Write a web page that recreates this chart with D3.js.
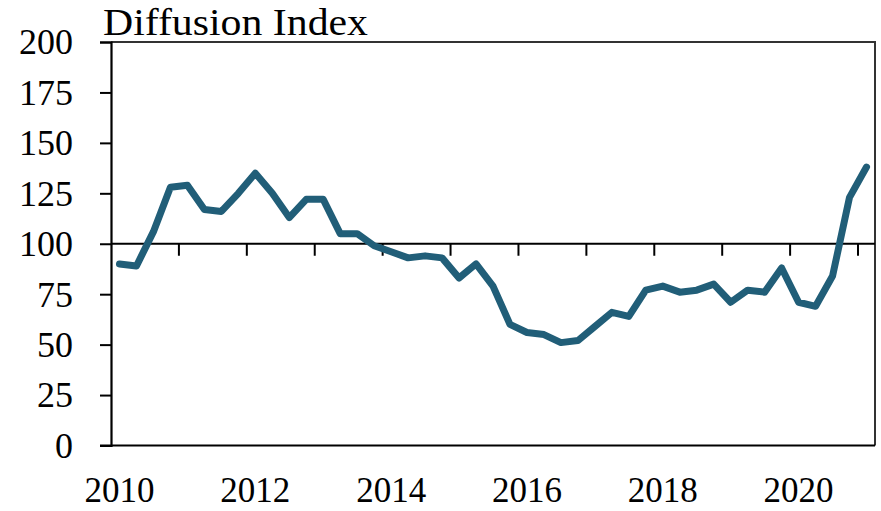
<!DOCTYPE html>
<html>
<head>
<meta charset="utf-8">
<script src="https://cdn.jsdelivr.net/npm/d3@7"></script>
<style>
  html, body { margin: 0; padding: 0; background: #fff; }
  svg { display: block; }
  text { font-family: "Liberation Serif", "DejaVu Serif", serif; fill: #000; }
</style>
</head>
<body>
<svg id="chart" width="881" height="511"></svg>
<script>
// ---- data ----
const years = [2010, 2011, 2012, 2013, 2014, 2015, 2016, 2017, 2018, 2019, 2020, 2021];
const quarters = ["Q1", "Q2", "Q3", "Q4"];
const categories = [];
years.forEach(yr => quarters.forEach(q => { if (!(yr === 2021 && q !== "Q1")) categories.push(yr + q); }));
const values = [
  90, 89, 106, 128,
  129, 117, 116, 125,
  135, 125, 113, 122,
  122, 105, 105, 99,
  96, 93, 94, 93,
  83, 90, 79, 60,
  56, 55, 51, 52,
  59, 66, 64, 77,
  79, 76, 77, 80,
  71, 77, 76, 88,
  71, 69, 84, 123,
  138
];
const yTicks = [0, 25, 50, 75, 100, 125, 150, 175, 200];
const xLabelYears = ["2010", "2012", "2014", "2016", "2018", "2020"];
const yTitle = "Diffusion Index";
const refLine = 100;

// ---- layout ----
const svg = d3.select("#chart");
const pL = 111, pR = 875, pT = 42, pB = 445.5;

const x = d3.scaleBand().domain(categories).range([pL, pR]).paddingInner(0).paddingOuter(0);
const y = d3.scaleLinear().domain([0, 200]).range([pB, pT]);
const cx = c => x(c) + x.bandwidth() / 2;

// plot frame (top & right)
svg.append("path")
  .attr("d", `M${pL},${pT}H${pR}V${pB}`)
  .attr("fill", "none").attr("stroke", "#333").attr("stroke-width", 2);

// y axis
const yAxis = svg.append("g").attr("transform", `translate(${pL},0)`)
  .call(d3.axisLeft(y).tickValues(yTicks).tickSize(11).tickPadding(27));
yAxis.select(".domain").attr("stroke", "#000").attr("stroke-width", 2.2);
yAxis.selectAll(".tick line").attr("stroke", "#000").attr("stroke-width", 2);
yAxis.selectAll(".tick text").attr("font-size", 36).attr("font-family", "Liberation Serif").attr("dy", "0.33em");

// bottom (0) line
svg.append("line")
  .attr("x1", pL - 11).attr("x2", pR).attr("y1", y(0)).attr("y2", y(0))
  .attr("stroke", "#000").attr("stroke-width", 2.2);

// category axis at 100
const yearTickCats = categories.filter((c, i) => i % 4 === 0 && i > 0);
const xAxisG = svg.append("g").attr("transform", `translate(0,${y(refLine)})`);
xAxisG.append("line").attr("x1", pL).attr("x2", pR).attr("y1", 0).attr("y2", 0)
  .attr("stroke", "#000").attr("stroke-width", 2);
xAxisG.selectAll("line.tick").data(yearTickCats).join("line")
  .attr("class", "tick")
  .attr("x1", d => x(d)).attr("x2", d => x(d))
  .attr("y1", 0).attr("y2", 12)
  .attr("stroke", "#000").attr("stroke-width", 2);

// x labels at bottom
svg.selectAll("text.xlab").data(xLabelYears).join("text")
  .attr("class", "xlab")
  .attr("x", d => cx(d + "Q1"))
  .attr("y", 502)
  .attr("text-anchor", "middle")
  .attr("font-size", 35)
  .text(d => d);

// title
svg.append("text")
  .attr("x", 103).attr("y", 35)
  .attr("font-size", 38)
  .attr("textLength", 265)
  .attr("lengthAdjust", "spacingAndGlyphs")
  .text(yTitle);

// line
const line = d3.line()
  .x((d, i) => cx(categories[i]))
  .y(d => y(d));
svg.append("path")
  .datum(values)
  .attr("d", line)
  .attr("fill", "none")
  .attr("stroke", "#215e78")
  .attr("stroke-width", 7)
  .attr("stroke-linejoin", "round")
  .attr("stroke-linecap", "round");
</script>
</body>
</html>
